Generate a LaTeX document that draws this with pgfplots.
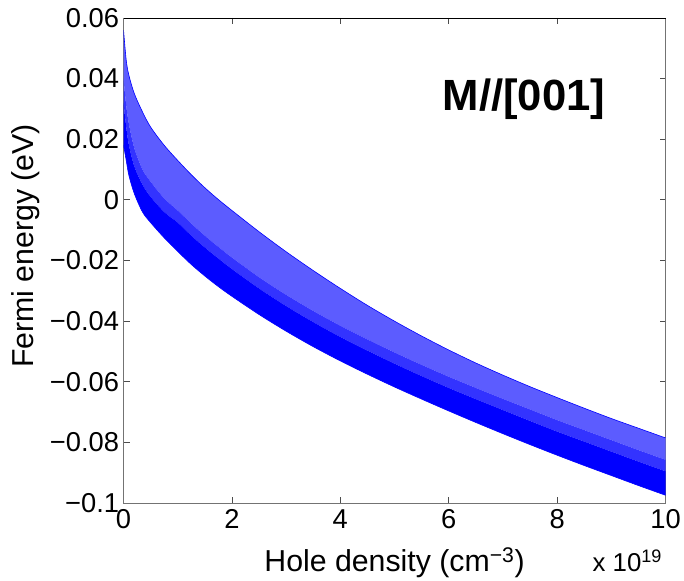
\documentclass[border=0pt]{standalone}
\usepackage{fontspec}
\setmainfont{Liberation Sans}
\usepackage{pgfplots}
\usepackage{pgfplotstable}
\pgfplotsset{compat=1.18}
\usepgfplotslibrary{fillbetween}
\pgfplotstableread{
x     top      midb     mid      bot
0     0.056    0.040    0.032    0.018
0.05  0.046    0.031    0.024    0.013
0.1   0.041    0.025    0.018    0.008
0.2   0.035    0.017    0.011    0.002
0.35  0.029    0.010    0.005    -0.004
0.5   0.024    0.006    0.001    -0.0075
0.75  0.018    0.0005   -0.004   -0.0125
1.0   0.013    -0.0035  -0.0075  -0.017
1.25  0.0083   -0.0078  -0.0118  -0.0213
1.5   0.0040   -0.0118  -0.0157  -0.0251
1.75  0.0001   -0.0155  -0.0193  -0.0286
2.0   -0.0035  -0.0190  -0.0228  -0.0318
2.5   -0.0105  -0.0255  -0.0292  -0.0378
3.0   -0.0171  -0.0313  -0.0350  -0.0433
3.5   -0.0233  -0.0366  -0.0403  -0.0484
4.0   -0.0292  -0.0415  -0.0452  -0.0531
4.5   -0.0348  -0.0460  -0.0497  -0.0575
5.0   -0.0400  -0.0503  -0.0540  -0.0617
5.5   -0.0449  -0.0544  -0.0581  -0.0657
6.0   -0.0495  -0.0583  -0.0620  -0.0696
6.5   -0.0538  -0.0620  -0.0657  -0.0734
7.0   -0.0578  -0.0656  -0.0693  -0.0771
7.5   -0.0616  -0.0691  -0.0729  -0.0807
8.0   -0.0652  -0.0726  -0.0764  -0.0842
8.5   -0.0687  -0.0759  -0.0797  -0.0876
9.0   -0.0721  -0.0792  -0.0830  -0.0909
9.5   -0.0753  -0.0825  -0.0863  -0.0942
10.0  -0.0785  -0.0857  -0.0895  -0.0974
}\band
\begin{document}
\begin{tikzpicture}
\begin{axis}[
  scale only axis, width=544bp, height=487bp,
  xmin=0, xmax=10, ymin=-0.1, ymax=0.06,
  clip mode=individual,
  xtick={0,2,4,6,8,10}, xticklabels={0,2,4,6,8,10},
  ytick={-0.1,-0.08,-0.06,-0.04,-0.02,0,0.02,0.04,0.06},
  yticklabels={−0.1,−0.08,−0.06,−0.04,−0.02,0,0.02,0.04,0.06},
  tick align=inside, major tick length=6bp, tick pos=both,
  ticklabel style={font=\fontsize{27.5}{32}\selectfont},
  xticklabel style={yshift=-3bp},
  yticklabel style={xshift=-1bp},
  axis line style={black!55, line width=0.8bp},
  tick style={black!70, line width=0.8bp},
]
\addplot[name path=top, draw=none, smooth] table[x=x, y=top] {\band};
\addplot[name path=midb, draw=none, smooth] table[x=x, y=midb] {\band};
\addplot[name path=mid, draw=none, smooth] table[x=x, y=mid] {\band};
\addplot[name path=bot, draw=none, smooth] table[x=x, y=bot] {\band};
\addplot[blue!64] fill between[of=top and midb];
\addplot[blue!80] fill between[of=midb and mid];
\addplot[blue] fill between[of=mid and bot];
\addplot[blue, line width=0.6bp, smooth] table[x=x, y=top] {\band};
\addplot[blue, line width=0.6bp, smooth] table[x=x, y=bot] {\band};
\draw[black, line width=0.8bp] (rel axis cs:0,1) -- (rel axis cs:1,1);
\node[font=\bfseries\fontsize{44}{50}\selectfont] at (axis cs:7.39,0.0331) {M//[001]};
\node[anchor=base, font=\fontsize{30.5}{36}\selectfont] at (axis description cs:0.5,-0.14) {Hole density (cm\textsuperscript{−3})};
\node[anchor=base east, font=\fontsize{26}{30}\selectfont] at (axis description cs:1,-0.14) {x 10\textsuperscript{19}};
\node[rotate=90, font=\fontsize{30.5}{36}\selectfont] at (axis description cs:-0.18,0.53) {Fermi energy (eV)};
\end{axis}
\path (-124bp,-77bp) rectangle (560bp,505bp);
\end{tikzpicture}
\end{document}
